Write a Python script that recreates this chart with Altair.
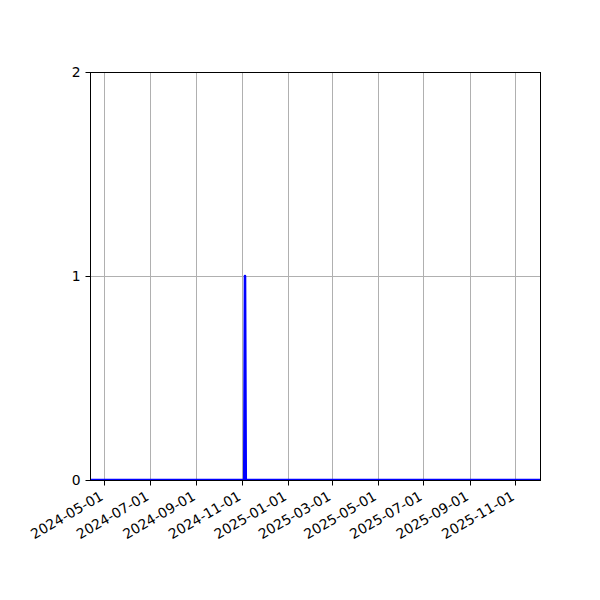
import altair as alt
import pandas as pd

# daily counts: zero everywhere except one day
dates = ["2024-04-12", "2024-11-04", "2024-11-05", "2024-11-06", "2025-12-04"]
values = [0, 0, 1, 0, 0]

x_ticks = ["2024-05-01", "2024-07-01", "2024-09-01", "2024-11-01", "2025-01-01",
           "2025-03-01", "2025-05-01", "2025-07-01", "2025-09-01", "2025-11-01"]
y_ticks = [0, 1, 2]


def to_dt(s):
    y, m, d = map(int, s.split("-"))
    return alt.DateTime(year=y, month=m, date=d, utc=True)


df = pd.DataFrame({"date": dates, "n": values})

line = alt.Chart(df).mark_line(color="#0000ff", strokeWidth=2.6, strokeJoin="round", clip=True).encode(
    x=alt.X("date:T", title=None,
            scale=alt.Scale(type="utc", domain=[to_dt(dates[0]), to_dt(dates[-1])], nice=False),
            axis=alt.Axis(values=[to_dt(s) for s in x_ticks],
                          labelExpr="utcFormat(datum.value, '%Y-%m-%d')",
                          labelAngle=330, labelAlign="right", labelBaseline="top",
                          labelPadding=4, labelOffset=-6, labelOverlap=False)),
    y=alt.Y("n:Q", title=None,
            scale=alt.Scale(domain=[0, 2], nice=False),
            axis=alt.Axis(values=y_ticks, tickCount=3, labelExpr="format(datum.value, 'd')",
                          labelPadding=5, labelOverlap=False)),
)

# black spines drawn over the grid
frame = alt.Chart(df).mark_rect(fill=None, stroke="black", strokeWidth=1).encode(
    x=alt.value(0.5), x2=alt.value(450.5), y=alt.value(0.5), y2=alt.value(408.5)
)

chart = (line + frame).properties(
    width=450,
    height=408,
    autosize=alt.AutoSizeParams(type="none"),
    padding={"left": 82, "top": 64, "right": 50, "bottom": 100},
).configure_view(
    strokeWidth=0
).configure_axis(
    grid=True, gridColor="#b0b0b0", gridWidth=1,
    domainColor="black", domainWidth=1,
    tickColor="black", tickSize=5, tickWidth=1,
    labelColor="black", labelFont="DejaVu Sans", labelFontSize=13.9,
)

chart.save("out.html", embed_options={"renderer": "svg", "actions": False})
